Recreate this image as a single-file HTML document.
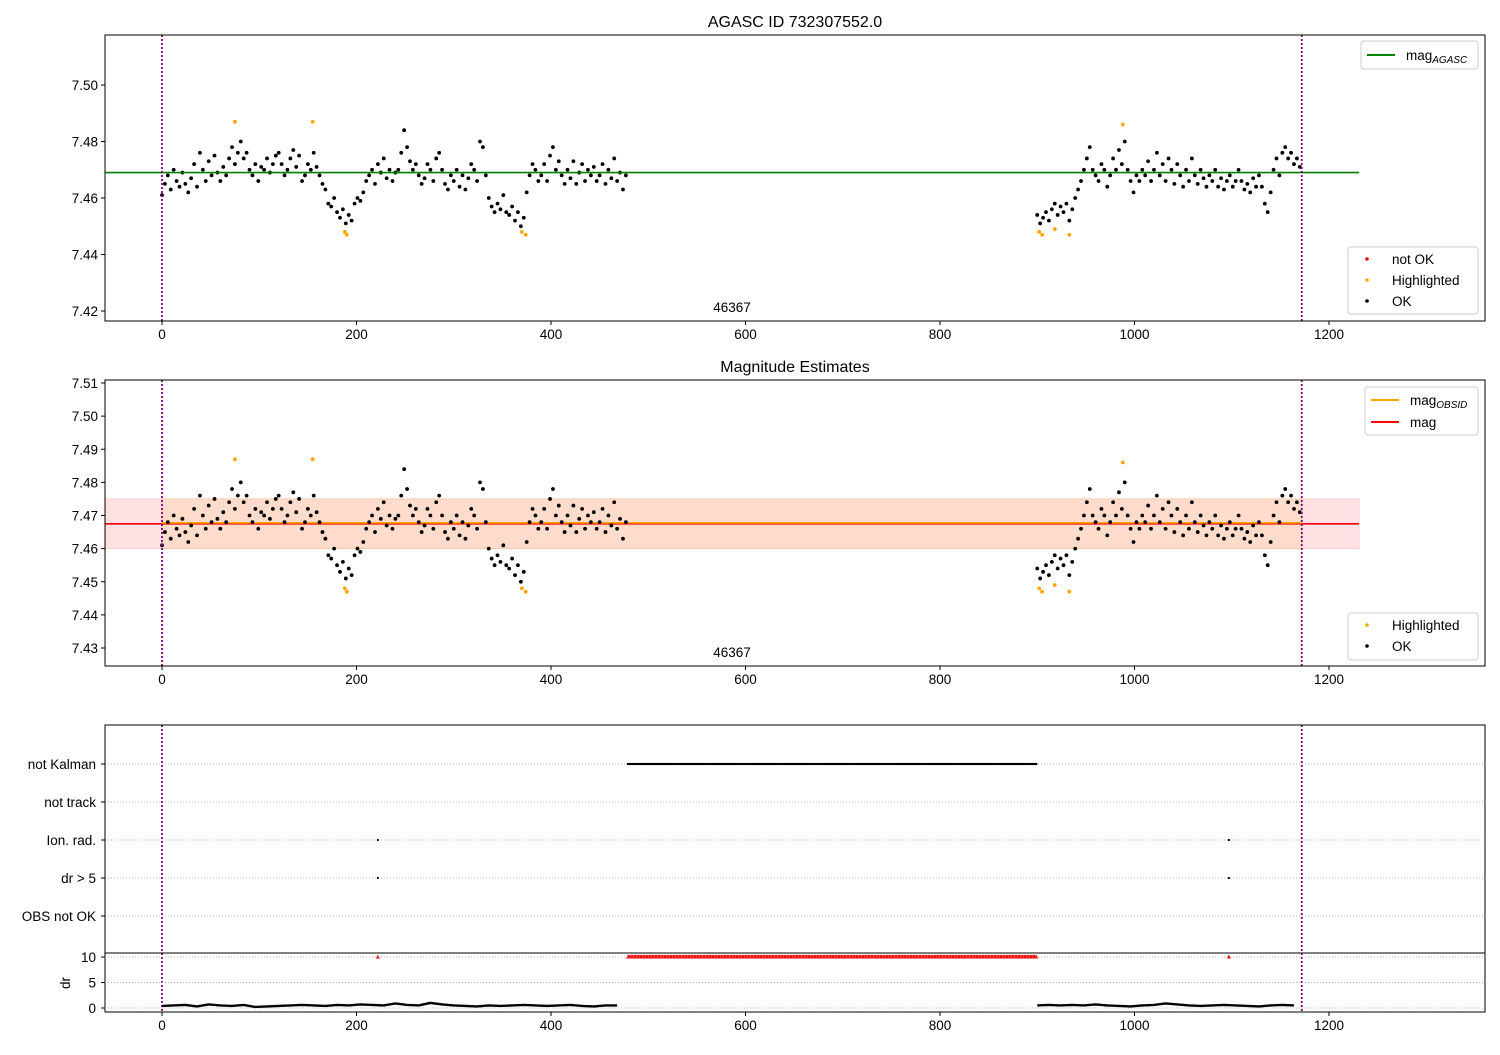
<!DOCTYPE html>
<html><head><meta charset="utf-8"><style>
body{margin:0;background:#fff}
svg{font-family:"Liberation Sans","DejaVu Sans",sans-serif}
</style></head><body>
<svg id="c" width="1500" height="1050" xmlns="http://www.w3.org/2000/svg"></svg>
<script>
const mag1 = [7.461,7.465,7.468,7.463,7.470,7.466,7.464,7.469,7.465,7.462,
7.467,7.472,7.464,7.476,7.470,7.466,7.473,7.468,7.475,7.469,
7.466,7.471,7.468,7.474,7.478,7.472,7.476,7.480,7.474,7.476,
7.470,7.468,7.472,7.466,7.471,7.470,7.474,7.469,7.472,7.475,
7.476,7.472,7.468,7.470,7.474,7.477,7.471,7.475,7.466,7.468,
7.472,7.470,7.476,7.471,7.468,7.465,7.463,7.458,7.457,7.460,
7.455,7.453,7.456,7.451,7.454,7.452,7.458,7.460,7.459,7.462,
7.466,7.468,7.470,7.465,7.472,7.469,7.474,7.467,7.470,7.466,
7.469,7.470,7.476,7.484,7.478,7.473,7.470,7.472,7.468,7.465,
7.467,7.472,7.470,7.466,7.474,7.476,7.470,7.465,7.463,7.468,
7.466,7.470,7.464,7.468,7.463,7.467,7.472,7.470,7.466,7.480,
7.478,7.468,7.460,7.457,7.455,7.458,7.456,7.461,7.455,7.454,
7.457,7.452,7.455,7.450,7.453,7.462,7.468,7.472,7.470,7.466,
7.468,7.472,7.466,7.475,7.478,7.470,7.473,7.468,7.465,7.470,
7.467,7.473,7.465,7.469,7.472,7.466,7.470,7.468,7.471,7.466,
7.468,7.472,7.465,7.470,7.467,7.474,7.466,7.469,7.463,7.468];
const t1Start = 0, t1Step = 3;
const mag2 = [7.454,7.451,7.453,7.455,7.452,7.456,7.458,7.454,7.457,7.455,
7.458,7.452,7.456,7.460,7.463,7.466,7.470,7.474,7.478,7.470,
7.468,7.466,7.472,7.470,7.464,7.468,7.474,7.470,7.477,7.472,
7.480,7.470,7.466,7.462,7.468,7.466,7.470,7.468,7.473,7.466,
7.470,7.476,7.468,7.472,7.466,7.474,7.470,7.465,7.472,7.468,
7.464,7.470,7.466,7.474,7.468,7.465,7.470,7.467,7.464,7.468,
7.466,7.470,7.464,7.467,7.463,7.466,7.468,7.464,7.466,7.470,
7.466,7.463,7.465,7.462,7.467,7.464,7.468,7.464,7.458,7.455,
7.462,7.470,7.474,7.468,7.476,7.478,7.474,7.476,7.472,7.474,7.471];
const t2Start = 900, t2Step = 3;
const hiT = [75,155,188,190,370,374,902,905,918,933,988];
const hiMag = [7.487,7.487,7.448,7.447,7.448,7.447,7.448,7.447,7.449,7.447,7.486];
const drA = [0.4,0.5,0.6,0.3,0.7,0.5,0.4,0.6,0.2,0.3,0.4,0.5,0.6,0.5,0.4,0.6,0.5,0.7,0.6,0.5,0.9,0.6,0.5,1.0,0.7,0.5,0.4,0.3,0.5,0.4,0.5,0.6,0.5,0.4,0.5,0.6,0.4,0.3,0.5,0.5];
const drAStart = 0, drAStep = 12;
const drB = [0.5,0.6,0.5,0.6,0.5,0.7,0.5,0.4,0.3,0.5,0.6,0.9,0.7,0.5,0.4,0.5,0.6,0.5,0.4,0.3,0.5,0.6,0.5];
const drBStart = 900, drBStep = 12;
const kalmanRanges = [[479,899]];
const ionT = [222,1097];
const drBigT = [222,1097];
const magAgasc = 7.469, magObs = 7.4675, magLo = 7.460, magHi = 7.475;
const tMin = 0, tMax = 1172, bandMax = 1231;
const xTicks = [0,200,400,600,800,1000,1200];
const y1Ticks = [7.42,7.44,7.46,7.48,7.50];
const y2Ticks = [7.43,7.44,7.45,7.46,7.47,7.48,7.49,7.50,7.51];
const cats = ["not Kalman","not track","Ion. rad.","dr > 5","OBS not OK"];
const drTicks = [0,5,10];

const NS="http://www.w3.org/2000/svg", svg=document.getElementById('c');
function el(tag,a,parent){const e=document.createElementNS(NS,tag);for(const k in a)e.setAttribute(k,a[k]);(parent||svg).appendChild(e);return e;}
const X=t=>162+t*0.9725;
const Y1=m=>85+(7.50-m)*2825;
const Y2=m=>383+(7.51-m)*3312.5;
const YD=d=>1008-d*5.1;
const catY=i=>764+i*38;
const L=105,R=1485;
function txt(x,y,s,anchor,size,name){const t=el('text',{x:x,y:y,'font-size':size||13.5,'text-anchor':anchor||'middle',fill:'#000'});t.textContent=s;return t;}
function xAxis(yb,name){xTicks.forEach(v=>{const l=el('line',{x1:X(v),x2:X(v),y1:yb,y2:yb+4,stroke:'#000'});txt(X(v),yb+18,String(v),'middle',13.5,name+'-label');});}
function series(Yf,g){
  mag1.forEach((m,i)=>{const c=el('circle',{cx:X(t1Start+i*t1Step),cy:Yf(m),r:1.9,fill:'#000'},g);});
  mag2.forEach((m,i)=>{const c=el('circle',{cx:X(t2Start+i*t2Step),cy:Yf(m),r:1.9,fill:'#000'},g);});
  hiT.forEach((t,i)=>{const c=el('circle',{cx:X(t),cy:Yf(hiMag[i]),r:1.9,fill:'orange'},g);});
}
function vlines(y0,y1){[tMin,tMax].forEach(t=>{const l=el('line',{x1:X(t),x2:X(t),y1:y0,y2:y1,stroke:'purple','stroke-width':1.8,'stroke-dasharray':'2,2'});});}
function legendBox(x,y,w,h,name){const r=el('rect',{x:x,y:y,width:w,height:h,rx:3,fill:'#fff','fill-opacity':0.8,stroke:'#ccc'});}

// Panel 1
txt(795,27,'AGASC ID 732307552.0','middle',16,'panel1-title');
const g1=el('g',{});
let ag=el('line',{x1:X(-58),x2:X(bandMax),y1:Y1(magAgasc),y2:Y1(magAgasc),stroke:'green','stroke-width':1.6});

series(Y1,g1);vlines(35,321);
let f1=el('rect',{x:L,y:35,width:R-L,height:286,fill:'none',stroke:'#000'});
y1Ticks.forEach(v=>{el('line',{x1:L-4,x2:L,y1:Y1(v),y2:Y1(v),stroke:'#000'});txt(L-7,Y1(v)+5,v.toFixed(2),'end',13.5,'y1-tick-label');});
xAxis(321,'x1-tick');
txt(732,312,'46367','middle',13.5,'panel1-obsid-label');
legendBox(1361,41,117,28,'panel1-legend-top');
el('line',{x1:1367,x2:1395,y1:55,y2:55,stroke:'green','stroke-width':2});
let tg=txt(1406,60,'mag','start',13.5,'legend-mag-agasc');let ts=el('tspan',{'font-size':10,'font-style':'italic',dy:3},tg);ts.textContent='AGASC';
legendBox(1348,247,130,67,'panel1-legend-bottom');
el('circle',{cx:1367,cy:259,r:1.8,fill:'red'});txt(1392,264,'not OK','start',13.5,'legend-not-ok');
el('circle',{cx:1367,cy:280,r:1.8,fill:'orange'});txt(1392,285,'Highlighted','start',13.5,'legend-highlighted');
el('circle',{cx:1367,cy:301,r:1.8,fill:'#000'});txt(1392,306,'OK','start',13.5,'legend-ok');

// Panel 2
txt(795,372,'Magnitude Estimates','middle',16,'panel2-title');
let b1=el('rect',{x:X(-58),y:Y2(magHi),width:X(bandMax)-X(-58),height:Y2(magLo)-Y2(magHi),fill:'#ffe0e3',stroke:'#ffd0d5'});
let b2=el('rect',{x:X(tMin),y:Y2(magHi),width:X(tMax)-X(tMin),height:Y2(magLo)-Y2(magHi),fill:'#fddccc',stroke:'#fbc9b0'});
let lr=el('line',{x1:X(-58),x2:X(bandMax),y1:Y2(magObs),y2:Y2(magObs),stroke:'red','stroke-width':1.6});
let lo=el('line',{x1:X(tMin),x2:X(tMax),y1:Y2(magObs)-1,y2:Y2(magObs)-1,stroke:'orange','stroke-width':1.6});
const g2=el('g',{});
series(Y2,g2);vlines(380,666);
let f2=el('rect',{x:L,y:380,width:R-L,height:286,fill:'none',stroke:'#000'});
y2Ticks.forEach(v=>{el('line',{x1:L-4,x2:L,y1:Y2(v),y2:Y2(v),stroke:'#000'});txt(L-7,Y2(v)+5,v.toFixed(2),'end',13.5,'y2-tick-label');});
xAxis(666,'x2-tick');
txt(732,657,'46367','middle',13.5,'panel2-obsid-label');
legendBox(1365,387,113,48,'panel2-legend-top');
el('line',{x1:1371,x2:1399,y1:400,y2:400,stroke:'orange','stroke-width':2});
tg=txt(1410,405,'mag','start',13.5,'legend-mag-obsid');ts=el('tspan',{'font-size':10,'font-style':'italic',dy:3},tg);ts.textContent='OBSID';
el('line',{x1:1371,x2:1399,y1:422,y2:422,stroke:'red','stroke-width':2});txt(1410,427,'mag','start',13.5,'legend-mag');
legendBox(1348,613,130,47,'panel2-legend-bottom');
el('circle',{cx:1367,cy:625,r:1.8,fill:'orange'});txt(1392,630,'Highlighted','start',13.5,'legend-highlighted-2');
el('circle',{cx:1367,cy:646,r:1.8,fill:'#000'});txt(1392,651,'OK','start',13.5,'legend-ok-2');

// Panel 3 flags
cats.forEach((c,i)=>{const l=el('line',{x1:L,x2:R,y1:catY(i),y2:catY(i),stroke:'#b0b0b0','stroke-dasharray':'1,2'});el('line',{x1:L-4,x2:L,y1:catY(i),y2:catY(i),stroke:'#000'});txt(L-9,catY(i)+5,c,'end',13.5,'flag-label');});
kalmanRanges.forEach(r=>{for(let t=r[0];t<=r[1];t+=1){const c=el('circle',{cx:X(t),cy:catY(0),r:1.1,fill:'#000'});
 const p=el('path',{d:`M${X(t)},${YD(10)-2.5} l1.8,4 h-3.6z`,fill:'red'});}});
ionT.forEach(t=>{const c=el('circle',{cx:X(t),cy:catY(2),r:1.1,fill:'#000'});});
drBigT.forEach(t=>{const c=el('circle',{cx:X(t),cy:catY(3),r:1.1,fill:'#000'});
 const p=el('path',{d:`M${X(t)},${YD(10)-2.5} l2,4 h-4z`,fill:'red'});});
vlines(725,1012);
let f3=el('rect',{x:L,y:725,width:R-L,height:287,fill:'none',stroke:'#000'});
el('line',{x1:L,x2:R,y1:953,y2:953,stroke:'#000'});
drTicks.forEach(v=>{const l=el('line',{x1:L,x2:R,y1:YD(v),y2:YD(v),stroke:'#b0b0b0','stroke-dasharray':'1,2'});el('line',{x1:L-4,x2:L,y1:YD(v),y2:YD(v),stroke:'#000'});txt(L-9,YD(v)+5,String(v),'end',13.5,'dr-tick-label');});
function drLine(arr,s,st){const p=el('polyline',{points:arr.map((d,i)=>X(s+i*st)+','+YD(d)).join(' '),fill:'none',stroke:'#000','stroke-width':2.4});}
drLine(drA,drAStart,drAStep);drLine(drB,drBStart,drBStep);
let dl=txt(70,983,'dr','middle',13.5,'dr-axis-title');dl.setAttribute('transform','rotate(-90 70 983)');
xAxis(1012,'x3-tick');
</script>
</body></html>
